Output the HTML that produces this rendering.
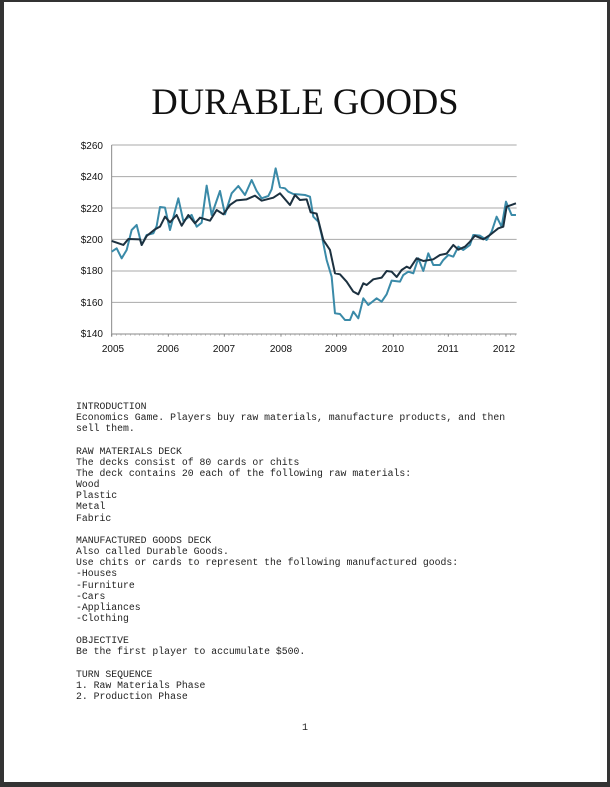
<!DOCTYPE html>
<html><head><meta charset="utf-8"><style>
html,body{margin:0;padding:0;}
body{width:610px;height:787px;position:relative;overflow:hidden;background:#333;}
.page{position:absolute;left:4px;top:2px;width:603px;height:780px;background:#fff;}
h1{position:absolute;left:0;width:610px;top:80px;margin:0;text-align:center;font-family:"Liberation Serif",serif;font-weight:normal;font-size:36.5px;color:#111;}
pre{position:absolute;left:76px;top:401px;margin:0;font-family:"Liberation Mono",monospace;font-size:9.8px;line-height:11.15px;color:#222;}
.pn{position:absolute;left:302px;top:723px;font-family:"Liberation Mono",monospace;font-size:10px;color:#222;}
</style></head><body>
<div class="page"></div>
<h1>DURABLE GOODS</h1>
<svg style="position:absolute;left:0;top:0" width="610" height="400">
<g font-family="Liberation Sans,sans-serif" font-size="10" fill="#111" text-anchor="end">
<text x="103" y="149">$260</text><text x="103" y="180">$240</text><text x="103" y="212">$220</text><text x="103" y="243">$200</text><text x="103" y="274">$180</text><text x="103" y="306">$160</text><text x="103" y="337">$140</text>
</g>
<g font-family="Liberation Sans,sans-serif" font-size="10" fill="#111" text-anchor="middle">
<text x="113" y="352">2005</text><text x="168" y="352">2006</text><text x="224" y="352">2007</text><text x="281" y="352">2008</text><text x="336" y="352">2009</text><text x="393" y="352">2010</text><text x="448" y="352">2011</text><text x="504" y="352">2012</text>
</g>
<g transform="translate(100,135) scale(0.3333)" fill="none">
<g stroke="#aaa" stroke-width="3">
<line x1="35" y1="30" x2="1250" y2="30"/><line x1="35" y1="125" x2="1250" y2="125"/><line x1="35" y1="219" x2="1250" y2="219"/><line x1="35" y1="313" x2="1250" y2="313"/><line x1="35" y1="408" x2="1250" y2="408"/><line x1="35" y1="502" x2="1250" y2="502"/>
<line x1="35" y1="597" x2="1250" y2="597" stroke="#888"/>
<line x1="35" y1="30" x2="35" y2="605" stroke="#888"/>
</g>
<path d="M35 597 v8 M205 597 v8 M373 597 v8 M543 597 v8 M710 597 v8 M880 597 v8 M1045 597 v8 M1218 597 v8" stroke="#888" stroke-width="3"/>
<path d="M49 597v5M63 597v5M77 597v5M91 597v5M105 597v5M119 597v5M133 597v5M147 597v5M161 597v5M175 597v5M189 597v5M219 597v5M233 597v5M247 597v5M261 597v5M275 597v5M289 597v5M303 597v5M317 597v5M331 597v5M345 597v5M359 597v5M387 597v5M401 597v5M415 597v5M429 597v5M443 597v5M457 597v5M471 597v5M485 597v5M499 597v5M513 597v5M527 597v5M557 597v5M571 597v5M585 597v5M599 597v5M613 597v5M627 597v5M641 597v5M655 597v5M669 597v5M683 597v5M697 597v5M724 597v5M738 597v5M752 597v5M766 597v5M780 597v5M794 597v5M808 597v5M822 597v5M836 597v5M850 597v5M864 597v5M894 597v5M908 597v5M922 597v5M936 597v5M950 597v5M964 597v5M978 597v5M992 597v5M1006 597v5M1020 597v5M1034 597v5M1059 597v5M1073 597v5M1087 597v5M1101 597v5M1115 597v5M1129 597v5M1143 597v5M1157 597v5M1171 597v5M1185 597v5M1199 597v5M1232 597v5M1246 597v5" stroke="#999" stroke-width="2"/>
<polyline stroke="#3a8aa8" stroke-width="6" stroke-linejoin="round" points="35,350 50,340 65,370 80,345 95,285 110,270 125,330 140,300 160,295 170,273 180,216 195,218 210,285 235,190 250,258 275,240 290,275 305,263 320,152 335,240 360,168 375,238 395,175 415,153 435,180 455,135 470,168 485,190 505,183 515,163 527,100 540,157 555,160 565,170 580,177 595,178 615,180 630,185 640,245 655,260 665,300 680,375 695,425 705,535 720,537 735,555 750,555 760,530 775,550 790,490 805,510 830,490 845,500 860,478 875,437 900,440 910,420 925,410 940,415 955,370 970,408 985,355 1000,390 1020,390 1030,375 1045,360 1060,365 1075,335 1090,345 1110,330 1120,300 1140,302 1160,315 1175,290 1190,245 1205,275 1218,200 1235,240 1248,240"/>
<polyline stroke="#1c3140" stroke-width="6" stroke-linejoin="round" points="35,318 70,330 85,312 120,313 125,330 140,303 165,283 180,275 195,245 210,262 230,240 245,272 265,240 285,265 300,248 330,257 350,225 370,238 390,210 410,196 440,193 465,182 485,197 520,188 540,175 570,210 585,180 600,195 620,193 632,232 650,236 670,315 690,345 705,415 720,418 740,440 760,470 775,478 790,445 800,450 820,433 845,428 860,408 875,410 890,426 905,405 920,395 930,400 950,370 970,378 1000,373 1020,360 1040,356 1060,330 1075,344 1095,335 1110,320 1125,302 1150,313 1170,300 1195,280 1210,275 1220,215 1248,205"/>
</g>
</svg>
<pre>INTRODUCTION
Economics Game. Players buy raw materials, manufacture products, and then
sell them.

RAW MATERIALS DECK
The decks consist of 80 cards or chits
The deck contains 20 each of the following raw materials:
Wood
Plastic
Metal
Fabric

MANUFACTURED GOODS DECK
Also called Durable Goods.
Use chits or cards to represent the following manufactured goods:
-Houses
-Furniture
-Cars
-Appliances
-Clothing

OBJECTIVE
Be the first player to accumulate $500.

TURN SEQUENCE
1. Raw Materials Phase
2. Production Phase</pre>
<div class="pn">1</div>
</body></html>
